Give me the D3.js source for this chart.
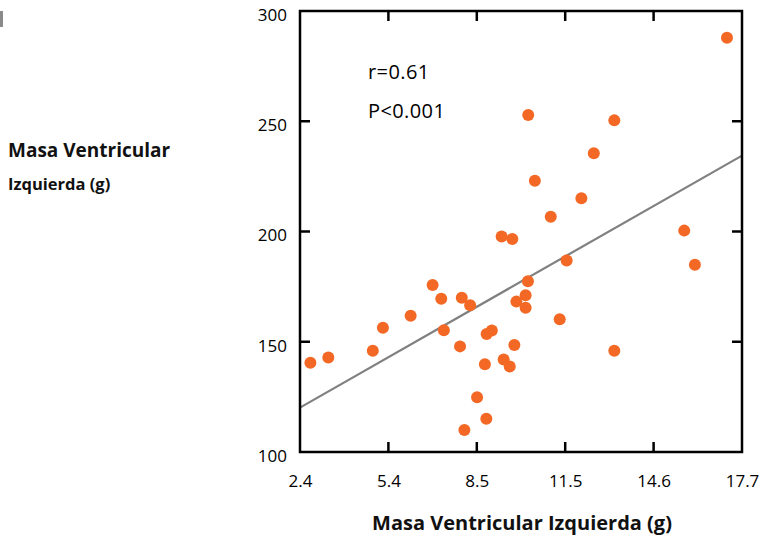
<!DOCTYPE html>
<html>
<head>
<meta charset="utf-8">
<script src="https://cdn.jsdelivr.net/npm/d3@7"></script>
<style>
  html, body { margin: 0; padding: 0; background: #fff; }
  svg { display: block; font-family: "Open Sans", "Noto Sans", sans-serif; }
</style>
</head>
<body>
<svg id="chart" width="761" height="538"></svg>
<script>
// Left ventricular mass: x and y measurements for each subject (g)
const massX = [2.76, 3.38, 4.92, 5.27, 6.23, 6.99, 7.29, 7.38, 7.94, 8.00,
               8.29, 8.09, 8.53, 8.80, 8.85, 8.86, 9.04, 9.38, 9.45, 9.66,
               9.75, 9.82, 9.89, 10.21, 10.21, 10.29, 10.30, 10.53, 11.08, 11.39,
               11.63, 12.14, 12.57, 13.28, 13.28, 15.70, 16.07, 17.18];
const massY = [140.5, 142.9, 145.9, 156.4, 161.8, 175.7, 169.5, 155.2, 147.9, 170.0,
               166.5, 110.0, 124.8, 139.8, 115.1, 153.5, 155.1, 197.7, 142.0, 138.8,
               196.6, 148.5, 168.2, 171.1, 165.4, 177.4, 252.8, 223.0, 206.7, 160.2,
               186.8, 215.1, 235.5, 250.4, 145.9, 200.4, 184.9, 287.9];

// Axis ticks
const xDomain = [2.4, 17.7];
const xTickLabels = ["2.4", "5.4", "8.5", "11.5", "14.6", "17.7"];
const yTicks = [100, 150, 200, 250, 300];

// Least-squares fit line and statistics
const fitIntercept = 102.2;
const fitSlope = 7.47;
const statLabels = ["r=0.61", "P<0.001"];

const svg = d3.select("#chart");
const plot = { left: 300, right: 742, top: 11, bottom: 452 };

const x = d3.scaleLinear().domain(xDomain).range([plot.left, plot.right]);
const y = d3.scaleLinear().domain([yTicks[0], yTicks[yTicks.length - 1]]).range([plot.bottom, plot.top]);

const step = (xDomain[1] - xDomain[0]) / (xTickLabels.length - 1);
const xTickValues = xTickLabels.map((_, i) => xDomain[0] + i * step);
const innerX = xTickValues.slice(1, -1);
const innerY = yTicks.slice(1, -1);

// small marker at the page edge
svg.append("rect").attr("x", 0).attr("y", 11).attr("width", 3).attr("height", 16).attr("fill", "#8a8a8a");

// bottom axis with labels
const gx = svg.append("g")
  .attr("transform", `translate(0,${plot.bottom})`)
  .call(d3.axisBottom(x).tickValues(xTickValues)
    .tickFormat((d, i) => xTickLabels[i]).tickSize(0).tickPadding(23));
gx.select(".domain").remove();
gx.selectAll("text").attr("font-size", 17).attr("fill", "#000").attr("font-family", "Open Sans");

// left axis with labels
const gy = svg.append("g")
  .attr("transform", `translate(${plot.left},0)`)
  .call(d3.axisLeft(y).tickValues(yTicks).tickSize(0).tickPadding(13));
gy.select(".domain").remove();
gy.selectAll("text").attr("font-size", 17).attr("fill", "#000").attr("dy", "0.55em").attr("font-family", "Open Sans");

// inward ticks on all four sides
const tickLen = 10;
const tickG = svg.append("g").attr("stroke", "#000").attr("stroke-width", 2.5);
innerX.forEach(v => {
  tickG.append("line").attr("x1", x(v)).attr("x2", x(v)).attr("y1", plot.bottom).attr("y2", plot.bottom - tickLen);
  tickG.append("line").attr("x1", x(v)).attr("x2", x(v)).attr("y1", plot.top).attr("y2", plot.top + tickLen);
});
innerY.forEach(v => {
  tickG.append("line").attr("y1", y(v)).attr("y2", y(v)).attr("x1", plot.left).attr("x2", plot.left + tickLen);
  tickG.append("line").attr("y1", y(v)).attr("y2", y(v)).attr("x1", plot.right).attr("x2", plot.right - tickLen);
});

// fitted line
svg.append("line")
  .attr("x1", x(xDomain[0])).attr("y1", y(fitIntercept + fitSlope * xDomain[0]))
  .attr("x2", x(xDomain[1])).attr("y2", y(fitIntercept + fitSlope * xDomain[1]))
  .attr("stroke", "#808080").attr("stroke-width", 2.2);

// data points
svg.append("g").selectAll("circle")
  .data(massX.map((v, i) => [v, massY[i]]))
  .join("circle")
  .attr("cx", d => x(d[0])).attr("cy", d => y(d[1])).attr("r", 6)
  .attr("fill", "#f36824");

// frame
svg.append("rect")
  .attr("x", plot.left).attr("y", plot.top)
  .attr("width", plot.right - plot.left).attr("height", plot.bottom - plot.top)
  .attr("fill", "none").attr("stroke", "#000").attr("stroke-width", 2.5);

// statistics
svg.append("g").selectAll("text").data(statLabels).join("text")
  .attr("x", 368).attr("y", (d, i) => 79 + i * 39)
  .attr("font-size", 20).attr("letter-spacing", 0.4).attr("fill", "#000")
  .text(d => d);

// axis titles
svg.append("text").attr("x", 522).attr("y", 530).attr("text-anchor", "middle")
  .attr("font-size", 20).attr("font-weight", "bold").attr("fill", "#111")
  .text("Masa Ventricular Izquierda (g)");
svg.append("text").attr("x", 8).attr("y", 157)
  .attr("font-size", 19).attr("font-weight", "bold").attr("fill", "#111")
  .text("Masa Ventricular");
svg.append("text").attr("x", 8).attr("y", 190)
  .attr("font-size", 16.5).attr("font-weight", "bold").attr("fill", "#111")
  .text("Izquierda (g)");
</script>
</body>
</html>
